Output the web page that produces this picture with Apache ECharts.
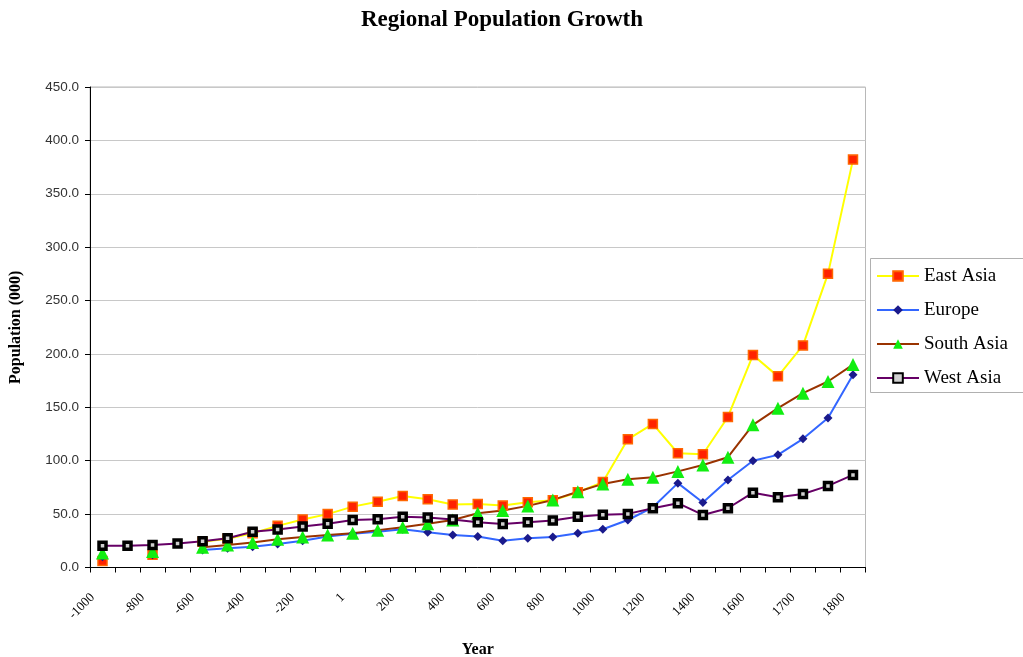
<!DOCTYPE html>
<html>
<head>
<meta charset="utf-8">
<script src="https://cdn.jsdelivr.net/npm/echarts@6/dist/echarts.min.js"></script>
<style>
html,body{margin:0;padding:0;background:#fff;}
#chart{width:1023px;height:657px;}
</style>
</head>
<body>
<div id="chart"></div>
<script>
var years = ['-1000','-900','-800','-700','-600','-500','-400','-300','-200','-100','1','100','200','300','400','500','600','700','800','900','1000','1100','1200','1300','1400','1500','1600','1650','1700','1750','1800'];
var eastAsia  = [6, null, 12, null, 24, 27, 32, 39, 45, 50, 57, 61.5, 67, 64, 59, 59.5, 58, 61, 63, 70.5, 80, 120, 134.5, 107, 106, 141, 199, 179, 208, 275, 382];
var europe    = [10, null, 12, null, 16.5, 18, 19.5, 22, 25, 29, 31.5, 33.5, 35.8, 33, 30.5, 29, 25, 27.5, 28.5, 32, 35.8, 44.5, 56.4, 79, 60.8, 82, 100, 105.5, 120.5, 140, 180.5];
var southAsia = [13.5, null, 15, null, 19, 21, 23.5, 26.5, 28.5, 30.5, 32, 35, 37.7, 41, 44.5, 50.8, 53.3, 57.7, 63.3, 71, 78.3, 82.7, 84.6, 90, 96, 103.3, 133.6, 149.2, 163.3, 174.2, 190];
var westAsia  = [20.4, 20.4, 21, 22.5, 24.5, 27.4, 33.5, 35.5, 38.5, 41, 44.5, 45.2, 47.5, 46.8, 45, 42.3, 40.8, 42.3, 44, 47.6, 49.5, 50.2, 55.5, 60.2, 49.2, 55.5, 70.1, 65.8, 68.9, 76.4, 86.7];
var yTicks = [0, 50, 100, 150, 200, 250, 300, 350, 400, 450];

var serif = '"Liberation Serif","DejaVu Serif",serif';
var sans = '"Liberation Sans",Arial,sans-serif';

var chart = echarts.init(document.getElementById('chart'), null, {renderer:'canvas'});
function mkSeries(name, data, lineColor, symbol, size, itemStyle){
  return {
    name: name, type: 'line', data: data,
    connectNulls: false, showAllSymbol: true,
    symbol: symbol, symbolSize: size,
    lineStyle: {color: lineColor, width: 2},
    itemStyle: itemStyle,
    animation: false
  };
}
chart.setOption({
  animation: false,
  backgroundColor: '#ffffff',
  title: {
    text: 'Regional Population Growth',
    left: 497, top: 4, textAlign: 'center',
    textStyle: {fontFamily: serif, fontWeight: 'bold', fontSize: 23, color: '#000'}
  },
  grid: {left: 90, right: 157.5, top: 87, bottom: 89.5, show: true, borderColor: '#b8b8b8', borderWidth: 1,
    containLabel: false, outerBoundsMode: 'none'},
  legend: {
    orient: 'vertical', left: 876, top: 265, padding: 0,
    itemWidth: 42, itemHeight: 12, itemGap: 12,
    textStyle: {fontFamily: serif, fontSize: 19, color: '#000', lineHeight: 22},
    data: ['East Asia', 'Europe', 'South Asia', 'West Asia']
  },
  graphic: [{
    type: 'rect', left: 870, top: 258, z: 0,
    shape: {width: 170, height: 134},
    style: {fill: '#fff', stroke: '#b0b0b0', lineWidth: 1}
  }],
  xAxis: {
    type: 'category', data: years, boundaryGap: true,
    name: 'Year', nameLocation: 'middle', nameGap: 74,
    nameTextStyle: {fontFamily: serif, fontWeight: 'bold', fontSize: 16, color: '#000'},
    axisLine: {lineStyle: {color: '#000', width: 1}},
    axisTick: {show: true, interval: 0, length: 5, lineStyle: {color: '#000'}},
    axisLabel: {interval: 1, rotate: 45, margin: 18, padding: [0, 14, 0, 0],
      fontFamily: serif, fontSize: 13, color: '#000'},
    splitLine: {show: false}
  },
  yAxis: {
    type: 'value', min: yTicks[0], max: yTicks[yTicks.length - 1], interval: 50,
    name: 'Population (000)', nameLocation: 'middle', nameGap: 66,
    nameTextStyle: {fontFamily: serif, fontWeight: 'bold', fontSize: 16, color: '#000'},
    axisLine: {show: true, lineStyle: {color: '#000', width: 1}},
    axisTick: {show: true, length: 5, lineStyle: {color: '#000'}},
    axisLabel: {margin: 11, fontFamily: sans, fontSize: 13.5, color: '#333',
      formatter: function(v){ return v.toFixed(1); }},
    splitLine: {show: true, lineStyle: {color: '#c8c8c8', width: 1}}
  },
  series: [
    mkSeries('East Asia', eastAsia, '#ffff00', 'rect', 9, {color: '#ff2200', borderColor: '#ff6600', borderWidth: 1.5}),
    mkSeries('Europe', europe, '#3366ff', 'diamond', 9, {color: '#1a1a8c'}),
    mkSeries('South Asia', southAsia, '#993300', 'triangle', 13, {color: '#11ee11'}),
    mkSeries('West Asia', westAsia, '#660066', 'rect', 7, {color: '#d0d0d0', borderColor: '#000000', borderWidth: 3.5})
  ]
});
</script>
</body>
</html>
